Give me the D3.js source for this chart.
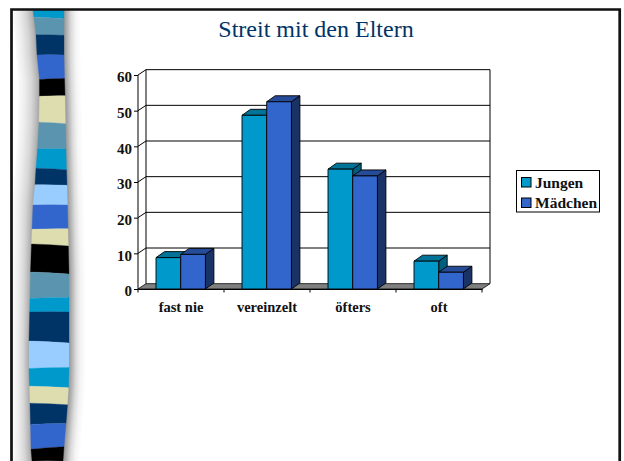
<!DOCTYPE html>
<html><head><meta charset="utf-8">
<script src="https://cdn.jsdelivr.net/npm/d3@7"></script>
<style>html,body{margin:0;padding:0;background:#fff}svg{display:block}</style></head>
<body><svg id="c" width="624" height="461"></svg>
<script>
const title = "Streit mit den Eltern";
const categories = ["fast nie","vereinzelt","öfters","oft"];
const seriesNames = ["Jungen","Mädchen"];
const jungen = [8.8,48.7,33.6,7.8];
const maedchen = [9.7,52.5,31.7,4.7];
const yTicks = [0,10,20,30,40,50,60];
const frontColors = ["#0099CC","#3366CC"];
const topColors = ["#007399","#264C99"];
const sideColors = ["#005F7F","#1A3366"];
const stripeColors = ["#0099CC","#5B94AE","#003366","#3366CC","#000000","#DDDDB0","#5B94AE","#0099CC","#003366","#99CCFF","#3366CC","#DDDDB0","#000000","#5B94AE","#0099CC","#003366","#99CCFF","#0099CC","#DDDDB0","#003366","#3366CC","#000000"];
const stripeEnds = [18,35,55,79,96,123,149,169,185,205,229,245,273,298,312,342,368,387,404,424,448,461];
const stripeTilts = [.8,.3,0,-.5,-.3,.7,0,.8,.3,0,-.3,1,1,-.5,0,1,-.5,.8,.8,-.5,-1.2,0];
const leftEdge = [[10,33],[35,36],[55,37],[79,39.5],[96,39.5],[123,39],[149,37.5],[169,36],[185,35],[205,33],[229,32],[245,31.5],[273,30.5],[298,30],[342,29],[368,29],[387,29.5],[404,30],[424,30.5],[448,31],[461,32]];
const rightEdge = [[10,64],[55,64],[79,64.5],[96,65],[123,65.5],[149,66],[169,66.5],[185,67],[205,67.5],[229,68],[273,69],[342,69],[368,69],[387,68.5],[404,67.5],[424,66],[448,64],[461,63]];

const svg = d3.select("#c");
const serif = "'Liberation Serif','Times New Roman',serif";
const defs = svg.append("defs");
const lg = defs.append("linearGradient").attr("id","shL");
[[0,"#fbfbfb"],[.3,"#ececec"],[.6,"#d6d6d6"],[.85,"#b6b6b6"],[1,"#9a9a9a"]].forEach(s=>lg.append("stop").attr("offset",s[0]).attr("stop-color",s[1]));
const rg = defs.append("linearGradient").attr("id","shR");
[[0,"#8c8c8c"],[.2,"#b0b0b0"],[.45,"#dcdcdc"],[.7,"#f4f4f4"],[1,"#ffffff"]].forEach(s=>rg.append("stop").attr("offset",s[0]).attr("stop-color",s[1]));

// decorative side band: soft shadow follows the band edges row by row
const lx = d3.scaleLinear().domain(leftEdge.map(d=>d[0])).range(leftEdge.map(d=>d[1]));
const rx = d3.scaleLinear().domain(rightEdge.map(d=>d[0])).range(rightEdge.map(d=>d[1]));
const rows = d3.range(10,461);
const sh = svg.append("g").attr("shape-rendering","crispEdges");
sh.selectAll(".l").data(rows).join("rect").attr("class","l").attr("x",d=>Math.max(13,lx(d)-21)).attr("y",d=>d).attr("width",d=>lx(d)+1-Math.max(13,lx(d)-21)).attr("height",1).attr("fill","url(#shL)");
sh.selectAll(".r").data(rows).join("rect").attr("class","r").attr("x",d=>rx(d)-1).attr("y",d=>d).attr("width",18).attr("height",1).attr("fill","url(#shR)");
stripeColors.forEach((c,i)=>{
  const y0 = i? stripeEnds[i-1] : 10, y1 = stripeEnds[i];
  const t0 = i? stripeTilts[i-1]:0, t1 = stripeTilts[i];
  const a0=lx(y0),b0=rx(y0),a1=lx(y1),b1=rx(y1);
  svg.append("path").attr("fill",c).attr("stroke",c).attr("stroke-width",.3)
    .attr("d",`M${a0},${y0-t0}Q${(a0+b0)/2},${y0-.6} ${b0},${y0+t0}L${b1},${y1+t1}Q${(a1+b1)/2},${y1-.6} ${a1},${y1-t1}Z`);
});
// slide frame
svg.append("path").attr("d","M11.5,461V9.5H619.7V461").attr("fill","none").attr("stroke","#111").attr("stroke-width",2.7);

svg.append("text").text(title).attr("x",316).attr("y",37).attr("text-anchor","middle")
  .attr("font-family",serif).attr("font-size",24).attr("fill","#003366");

// chart
const dx=8, dy=5.33, left=138, right=482;
const x = d3.scaleBand().domain(categories).range([left,right]);
const y = d3.scaleLinear().domain([0,60]).range([289,75]);
const inner = d3.scaleBand().domain(seriesNames).range([18,18+49.4]);
const g = svg.append("g");
const ink = "#000";
g.append("path").attr("d",`M${left},${y(0)}L${left+dx},${y(0)-dy}H${right+dx}L${right},${y(0)}Z`).attr("fill","#808080").attr("stroke",ink).attr("stroke-width",.8);
g.append("path").attr("d",`M${left},${y(60)}L${left+dx},${y(60)-dy}H${right+dx}V${y(0)-dy}`).attr("fill","none").attr("stroke",ink).attr("stroke-width",1);
g.append("path").attr("d",`M${left+dx},${y(60)-dy}V${y(0)-dy}`).attr("stroke",ink).attr("stroke-width",1);
yTicks.filter(v=>v>0&&v<60).forEach(v=>{
  g.append("path").attr("d",`M${left},${y(v)}L${left+dx},${y(v)-dy}H${right+dx}`).attr("fill","none").attr("stroke",ink).attr("stroke-width",1);
});
const ya = g.append("g").attr("transform",`translate(${left},0)`).call(d3.axisLeft(y).tickValues(yTicks).tickSize(4).tickPadding(2));
ya.selectAll("line,path").attr("stroke",ink);
ya.select(".domain").attr("d",`M0,${y(60)}V${y(0)}`);
ya.selectAll("text").attr("dy","0.45em").attr("font-family",serif).attr("font-size",15).attr("font-weight","bold").attr("fill","#111");
const xa = g.append("g").attr("transform",`translate(0,${y(0)})`).call(d3.axisBottom(x).tickSize(0).tickPadding(12.5));
xa.select(".domain").attr("stroke",ink);
xa.selectAll("text").attr("font-family",serif).attr("font-size",14.5).attr("font-weight","bold").attr("fill","#111");
const edgeTicks = [...categories.map(c=>x(c)),right];
g.selectAll(".xt").data(edgeTicks).join("line").attr("x1",d=>d).attr("x2",d=>d).attr("y1",y(0)).attr("y2",y(0)+3.5).attr("stroke",ink);

const w = inner.bandwidth(), bx=8.5, by=6;
[jungen,maedchen].forEach((vals,s)=>{
  categories.forEach((c,i)=>{
    const X=x(c)+inner(seriesNames[s]), Y=y(vals[i]), B=y(0);
    const bar=g.append("g").attr("stroke",ink).attr("stroke-width",.9).attr("stroke-linejoin","round");
    bar.append("path").attr("fill",sideColors[s]).attr("d",`M${X+w},${Y}l${bx},${-by}V${B-by}L${X+w},${B}Z`);
    bar.append("path").attr("fill",topColors[s]).attr("d",`M${X},${Y}l${bx},${-by}h${w}l${-bx},${by}Z`);
    bar.append("rect").attr("x",X).attr("y",Y).attr("width",w).attr("height",B-Y).attr("fill",frontColors[s]);
  });
});

const lgd = svg.append("g");
lgd.append("rect").attr("x",516.5).attr("y",170.5).attr("width",83).attr("height",41.5).attr("fill","#fff").attr("stroke","#000");
seriesNames.forEach((n,i)=>{
  const yy=177.5+20.5*i;
  lgd.append("rect").attr("x",521.5).attr("y",yy).attr("width",9.5).attr("height",9.5).attr("fill",frontColors[i]).attr("stroke","#000");
  lgd.append("text").text(n).attr("x",535).attr("y",yy+10).attr("font-family",serif).attr("font-weight","bold").attr("font-size",15.5).attr("fill","#111");
});
</script></body></html>
